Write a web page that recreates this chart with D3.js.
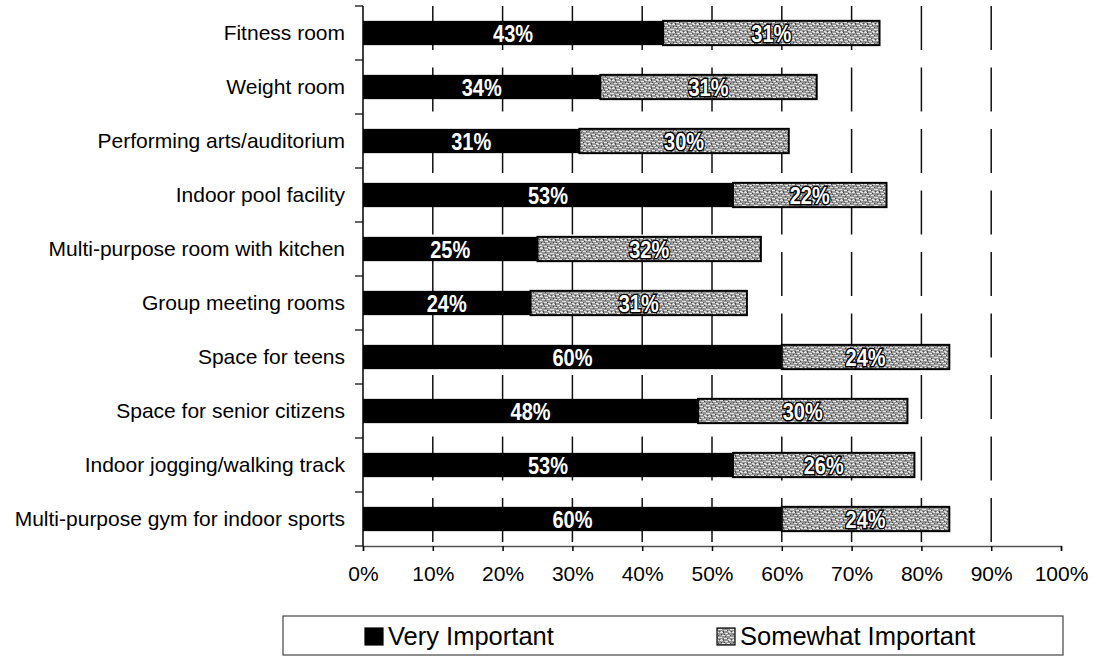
<!DOCTYPE html>
<html>
<head>
<meta charset="utf-8">
<script src="https://cdn.jsdelivr.net/npm/d3@7"></script>
<style>
  html, body { margin: 0; padding: 0; background: #fff; }
  svg { display: block; font-family: Arial, "Liberation Sans", sans-serif; }
</style>
</head>
<body>
<svg id="chart" width="1094" height="658"></svg>
<script>
// Facility importance survey results (percent of respondents)
const categories = [
  "Fitness room",
  "Weight room",
  "Performing arts/auditorium",
  "Indoor pool facility",
  "Multi-purpose room with kitchen",
  "Group meeting rooms",
  "Space for teens",
  "Space for senior citizens",
  "Indoor jogging/walking track",
  "Multi-purpose gym for indoor sports"
];
const veryImportant     = [43, 34, 31, 53, 25, 24, 60, 48, 53, 60];
const somewhatImportant = [31, 31, 30, 22, 32, 31, 24, 30, 26, 24];
const seriesNames = ["Very Important", "Somewhat Important"];
const xTicks = [0, 10, 20, 30, 40, 50, 60, 70, 80, 90, 100];

const svg = d3.select("#chart");
const plot = { left: 363, right: 1061, top: 6, bottom: 546 };

const x = d3.scaleLinear().domain([0, 100]).range([plot.left, plot.right]);
const y = d3.scaleBand().domain(categories)
  .range([plot.top, plot.bottom])
  .paddingInner(0.55).paddingOuter(0.275);
const step = y.step();

// Speckled grey fill for the second series
const defs = svg.append("defs");
const pat = defs.append("pattern")
  .attr("id", "speckle").attr("patternUnits", "userSpaceOnUse")
  .attr("width", 12).attr("height", 8);
pat.append("rect").attr("width", 12).attr("height", 8).attr("fill", "#969696");
const lightDots = [[0,0,3],[5,1,3],[9,0,2],[2,3,3],[7,3,3],[0,5,2],[4,6,4],[10,5,2],[8,7,2],[1,7,1]];
const darkDots  = [[3,0,1],[8,1,1],[1,2,1],[5,4,1],[10,3,1],[3,7,1],[7,6,1],[11,7,1],[4,2,1]];
lightDots.forEach(([px, py, w]) => pat.append("rect")
  .attr("x", px).attr("y", py).attr("width", w).attr("height", 1).attr("fill", "#e2e2e2"));
darkDots.forEach(([px, py, w]) => pat.append("rect")
  .attr("x", px).attr("y", py).attr("width", w).attr("height", 1).attr("fill", "#4a4a4a"));

// Vertical gridlines (long dash)
svg.append("g").selectAll("line")
  .data(xTicks.filter(t => t > 0 && t < 100))
  .join("line")
  .attr("x1", d => x(d)).attr("x2", d => x(d))
  .attr("y1", plot.top).attr("y2", plot.bottom)
  .attr("stroke", "#111").attr("stroke-width", 1.5)
  .attr("stroke-dasharray", "44,17.5");

// Bars
const rows = categories.map((c, i) => ({ c, v: veryImportant[i], s: somewhatImportant[i] }));
const bars = svg.append("g");
bars.selectAll("rect.vi").data(rows).join("rect")
  .attr("class", "vi")
  .attr("x", x(0)).attr("y", d => y(d.c))
  .attr("width", d => x(d.v) - x(0)).attr("height", y.bandwidth())
  .attr("fill", "#000");
bars.selectAll("rect.si").data(rows).join("rect")
  .attr("class", "si")
  .attr("x", d => x(d.v)).attr("y", d => y(d.c))
  .attr("width", d => x(d.v + d.s) - x(d.v)).attr("height", y.bandwidth())
  .attr("fill", "url(#speckle)").attr("stroke", "#000").attr("stroke-width", 2);

// Value labels (tall, condensed look)
const midY = d => y(d.c) + y.bandwidth() / 2;
const lab = svg.append("g")
  .attr("font-size", 20).attr("font-weight", "bold").attr("text-anchor", "middle");
lab.selectAll("text.vi").data(rows).join("text")
  .attr("class", "vi")
  .attr("transform", d => `translate(${x(d.v / 2)},${midY(d)}) scale(1,1.2)`)
  .attr("dy", "0.36em").attr("fill", "#fff")
  .text(d => d.v + "%");
lab.selectAll("text.si").data(rows).join("text")
  .attr("class", "si")
  .attr("transform", d => `translate(${x(d.v + d.s / 2)},${midY(d)}) scale(1,1.2)`)
  .attr("dy", "0.36em").attr("fill", "#fff")
  .attr("stroke", "#000").attr("stroke-width", 2.5).attr("paint-order", "stroke")
  .text(d => d.s + "%");

// Category axis
svg.append("line")
  .attr("x1", plot.left).attr("x2", plot.left)
  .attr("y1", plot.top).attr("y2", plot.bottom)
  .attr("stroke", "#000").attr("stroke-width", 1.5);
svg.append("g").selectAll("line")
  .data(d3.range(categories.length + 1))
  .join("line")
  .attr("x1", plot.left - 8).attr("x2", plot.left)
  .attr("y1", i => plot.top + i * step).attr("y2", i => plot.top + i * step)
  .attr("stroke", "#000").attr("stroke-width", 1.2);
svg.append("g").attr("font-size", 21).attr("text-anchor", "end")
  .selectAll("text").data(categories).join("text")
  .attr("x", 345).attr("y", d => y(d) + y.bandwidth() / 2)
  .attr("dy", "0.35em").attr("fill", "#000")
  .text(d => d);

// Value axis
const xAxis = svg.append("g").attr("transform", `translate(0,${plot.bottom})`)
  .call(d3.axisBottom(x).tickValues(xTicks).tickFormat(d => d + "%").tickSize(5).tickPadding(15));
xAxis.select(".domain").attr("stroke", "#555").attr("stroke-width", 1.5);
xAxis.selectAll(".tick line").attr("stroke", "#000").attr("stroke-width", 1.5);
xAxis.selectAll(".tick text").attr("font-size", 21).attr("fill", "#000")
  .attr("font-family", "Arial, 'Liberation Sans', sans-serif");

// Legend
const legend = svg.append("g");
legend.append("rect")
  .attr("x", 283).attr("y", 616).attr("width", 780).attr("height", 39)
  .attr("fill", "#fff").attr("stroke", "#444").attr("stroke-width", 1.2);
const legendItems = [
  { name: seriesNames[0], fill: "#000", sx: 365 },
  { name: seriesNames[1], fill: "url(#speckle)", sx: 717 }
];
legendItems.forEach(it => {
  legend.append("rect")
    .attr("x", it.sx).attr("y", 628).attr("width", 18).attr("height", 17)
    .attr("fill", it.fill).attr("stroke", "#000").attr("stroke-width", 1.2);
  legend.append("text")
    .attr("x", it.sx + 23).attr("y", 645)
    .attr("font-size", 25.5).attr("fill", "#000")
    .text(it.name);
});
</script>
</body>
</html>
